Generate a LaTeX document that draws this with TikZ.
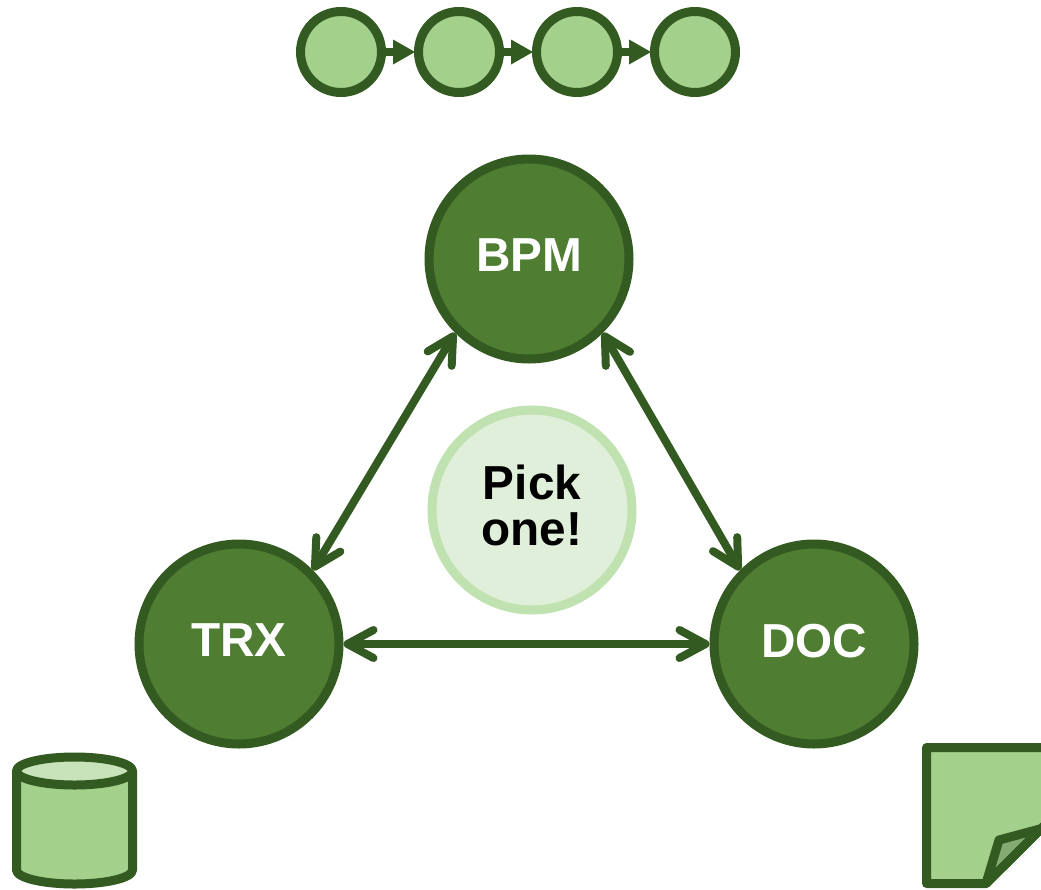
\documentclass[tikz,border=0pt]{standalone}
\usepackage{fontspec}
\setmainfont{Liberation Sans}
\usepackage{xcolor}
\usetikzlibrary{arrows.meta}
\definecolor{dark}{HTML}{335A20}
\definecolor{mid}{HTML}{4F7E32}
\definecolor{soft}{HTML}{A3D08B}
\definecolor{pale}{HTML}{C8E3BA}
\definecolor{ring}{HTML}{C0E1B0}
\definecolor{hint}{HTML}{E0EFD9}
\definecolor{fold}{HTML}{85AB70}

\begin{document}
\begin{tikzpicture}[x=1pt,y=-1pt,line join=round,
		big/.style={circle,draw=dark,fill=mid,line width=9pt,minimum size=200pt,inner sep=0pt,text=white,text depth=7pt,font=\fontsize{47.7}{46}\selectfont\bfseries},
		dot/.style={circle,draw=dark,fill=soft,line width=9pt,minimum size=81pt,inner sep=0pt},
		link/.style={draw=dark,line width=8pt,{Straight Barb[length=26pt,width=28pt,round]}-{Straight Barb[length=26pt,width=28pt,round]}},
		next/.style={draw=dark,line width=8pt,-{Triangle[length=22pt,width=25pt,line width=0pt]},shorten >=-1pt}]
			\useasboundingbox (0,0) rectangle (1041,889);
			% chain
			\node[dot] (d1) at (341,52) {};
			\node[dot] (d2) at (459,52) {};
			\node[dot] (d3) at (577,52) {};
			\node[dot] (d4) at (695,52) {};
			\draw[next] (d1) -- (d2);
			\draw[next] (d2) -- (d3);
			\draw[next] (d3) -- (d4);

			% triangle
			\node[big] (bpm) at (529,259) {BPM};
			\node[big] (trx) at (239,644) {TRX};
			\node[big] (doc) at (814,644) {DOC};
			\node[circle,draw=ring,fill=hint,line width=9pt,minimum size=200pt,inner sep=0pt,align=center,text depth=10pt,font=\fontsize{47.7}{45.5}\selectfont\bfseries] (pick) at (532,510) {Pick\\one!};
			\draw[link] (bpm.225) -- (trx.45);
			\draw[link] (bpm.315) -- (doc.135);
			\draw[link] (trx.0) -- (doc.180);

			% database
			\draw[dark,fill=soft,line width=9pt] (16.5,771) -- (16.5,870) arc[start angle=180,end angle=0,x radius=58,y radius=14] -- (132.5,771) -- cycle;
			\draw[dark,fill=pale,line width=9pt] (74.5,771) ellipse[x radius=58,y radius=14];

			% note
			\draw[dark,fill=soft,line width=9pt] (926.5,747.5) -- (1062,747.5) -- (1062,808) -- (986,883.5) -- (926.5,883.5) -- cycle;
			\draw[dark,fill=fold,line width=9pt] (986,883.5) -- (999,840) -- (1062,823) -- (1062,808) -- cycle;
\end{tikzpicture}
\end{document}
